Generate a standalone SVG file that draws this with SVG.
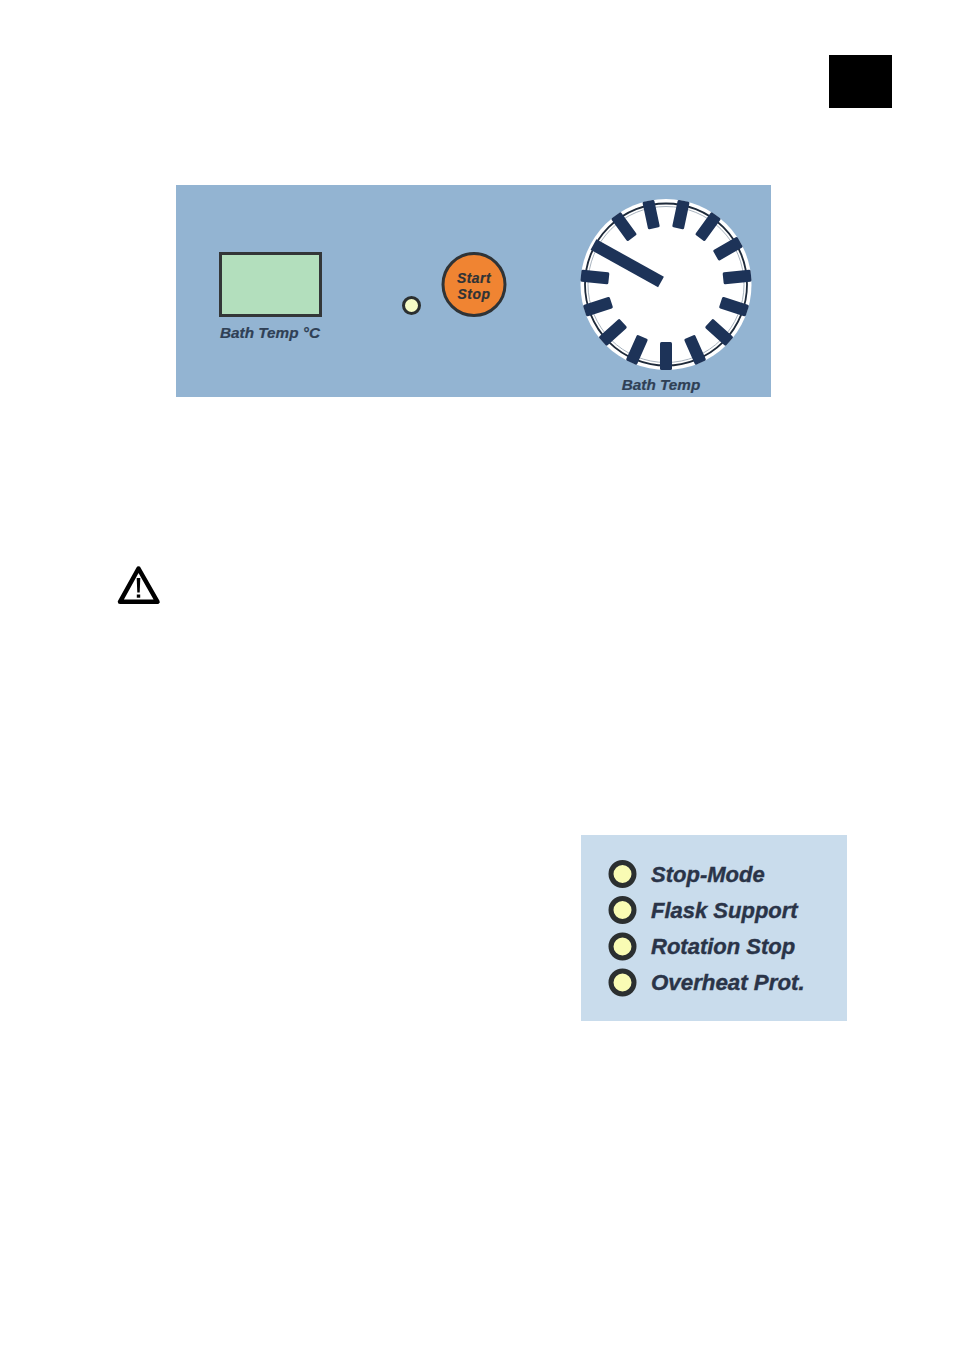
<svg xmlns="http://www.w3.org/2000/svg" width="955" height="1350" viewBox="0 0 955 1350">
<style>
.lbl{font-family:"Liberation Sans",Arial,sans-serif;font-weight:bold;font-style:italic;fill:#2f4055}
.s{font-size:15.300px;stroke:#2f4055;stroke-width:.2}
.ss{font-size:13.900px;letter-spacing:.5px;stroke:#2f3336;stroke-width:.2;fill:#2f3336}
.b{font-size:22px;fill:#2a3448;stroke:#2a3448;stroke-width:.4}
.led{fill:#f9fbb4;stroke:#2b2f30;stroke-width:5}
.tick{fill:#1d3358}
</style>
<defs>
<rect id="t" class="tick" x="-6" y="57.500" width="12" height="28" rx="1.500"/>
</defs>
<rect width="955" height="1350" fill="#ffffff"/>
<rect id="page-marker" x="829" y="55" width="63" height="53" fill="#000000"/>
<g id="control-panel">
<rect x="176" y="185" width="595" height="212" fill="#93b4d2"/>
<g id="display">
<rect x="220.500" y="253.500" width="100" height="62" fill="#b3dfbd" stroke="#333638" stroke-width="3"/>
<text class="lbl s" x="270" y="337.500" text-anchor="middle">Bath Temp °C</text>
</g>
<g id="indicator">
<circle cx="411.500" cy="305.500" r="8" fill="#f6fbc6" stroke="#2b2f30" stroke-width="3"/>
</g>
<g id="start-stop">
<circle cx="474" cy="284.500" r="31" fill="#f08432" stroke="#2f3336" stroke-width="3"/>
<text class="lbl ss" x="474" y="282.500" text-anchor="middle">Start</text>
<text class="lbl ss" x="474" y="298.500" text-anchor="middle">Stop</text>
</g>
<g id="dial">
<circle cx="666" cy="284.500" r="85.500" fill="#ffffff"/>
<circle cx="666" cy="284.500" r="81" fill="none" stroke="#1e2a3a" stroke-width="1.800"/>
<circle cx="666" cy="284.500" r="78" fill="none" stroke="#a9b4bf" stroke-width="1"/>
<g transform="translate(666 284.500)">
<use href="#t"/>
<use href="#t" transform="rotate(24)"/>
<use href="#t" transform="rotate(48)"/>
<use href="#t" transform="rotate(72)"/>
<use href="#t" transform="rotate(96)"/>
<use href="#t" transform="rotate(144)"/>
<use href="#t" transform="rotate(168)"/>
<use href="#t" transform="rotate(192)"/>
<use href="#t" transform="rotate(216)"/>
<use href="#t" transform="rotate(240)"/>
<use href="#t" transform="rotate(264)"/>
<use href="#t" transform="rotate(288)"/>
<use href="#t" transform="rotate(312)"/>
<use href="#t" transform="rotate(336)"/>
</g>
<line x1="593.500" y1="244.500" x2="661" y2="282" stroke="#1d3358" stroke-width="12"/>
<text class="lbl s" x="661" y="389.500" text-anchor="middle">Bath Temp</text>
</g>
</g>
<g id="warning">
<path d="M138.500 568.500 L157.500 601.800 H120 Z" fill="#ffffff" stroke="#000000" stroke-width="4.500" stroke-linejoin="round"/>
<path d="M136.700 578 H140.300 L139.700 592.500 H137.300 Z" fill="#000000"/>
<rect x="136.800" y="594.500" width="3.400" height="3.200" fill="#000000"/>
</g>
<g id="status-panel">
<rect x="581" y="835" width="266" height="186" fill="#c9dcec"/>
<g id="stop-mode"><circle class="led" cx="622.500" cy="874" r="11.500"/><text class="lbl b" x="651" y="881.500">Stop-Mode</text></g>
<g id="flask-support"><circle class="led" cx="622.500" cy="910" r="11.500"/><text class="lbl b" x="651" y="917.500">Flask Support</text></g>
<g id="rotation-stop"><circle class="led" cx="622.500" cy="946.500" r="11.500"/><text class="lbl b" x="651" y="954">Rotation Stop</text></g>
<g id="overheat-prot"><circle class="led" cx="622.500" cy="982.500" r="11.500"/><text class="lbl b" x="651" y="990" style="font-size:22.300px">Overheat Prot.</text></g>
</g>
<g id="connectors"/>
</svg>
